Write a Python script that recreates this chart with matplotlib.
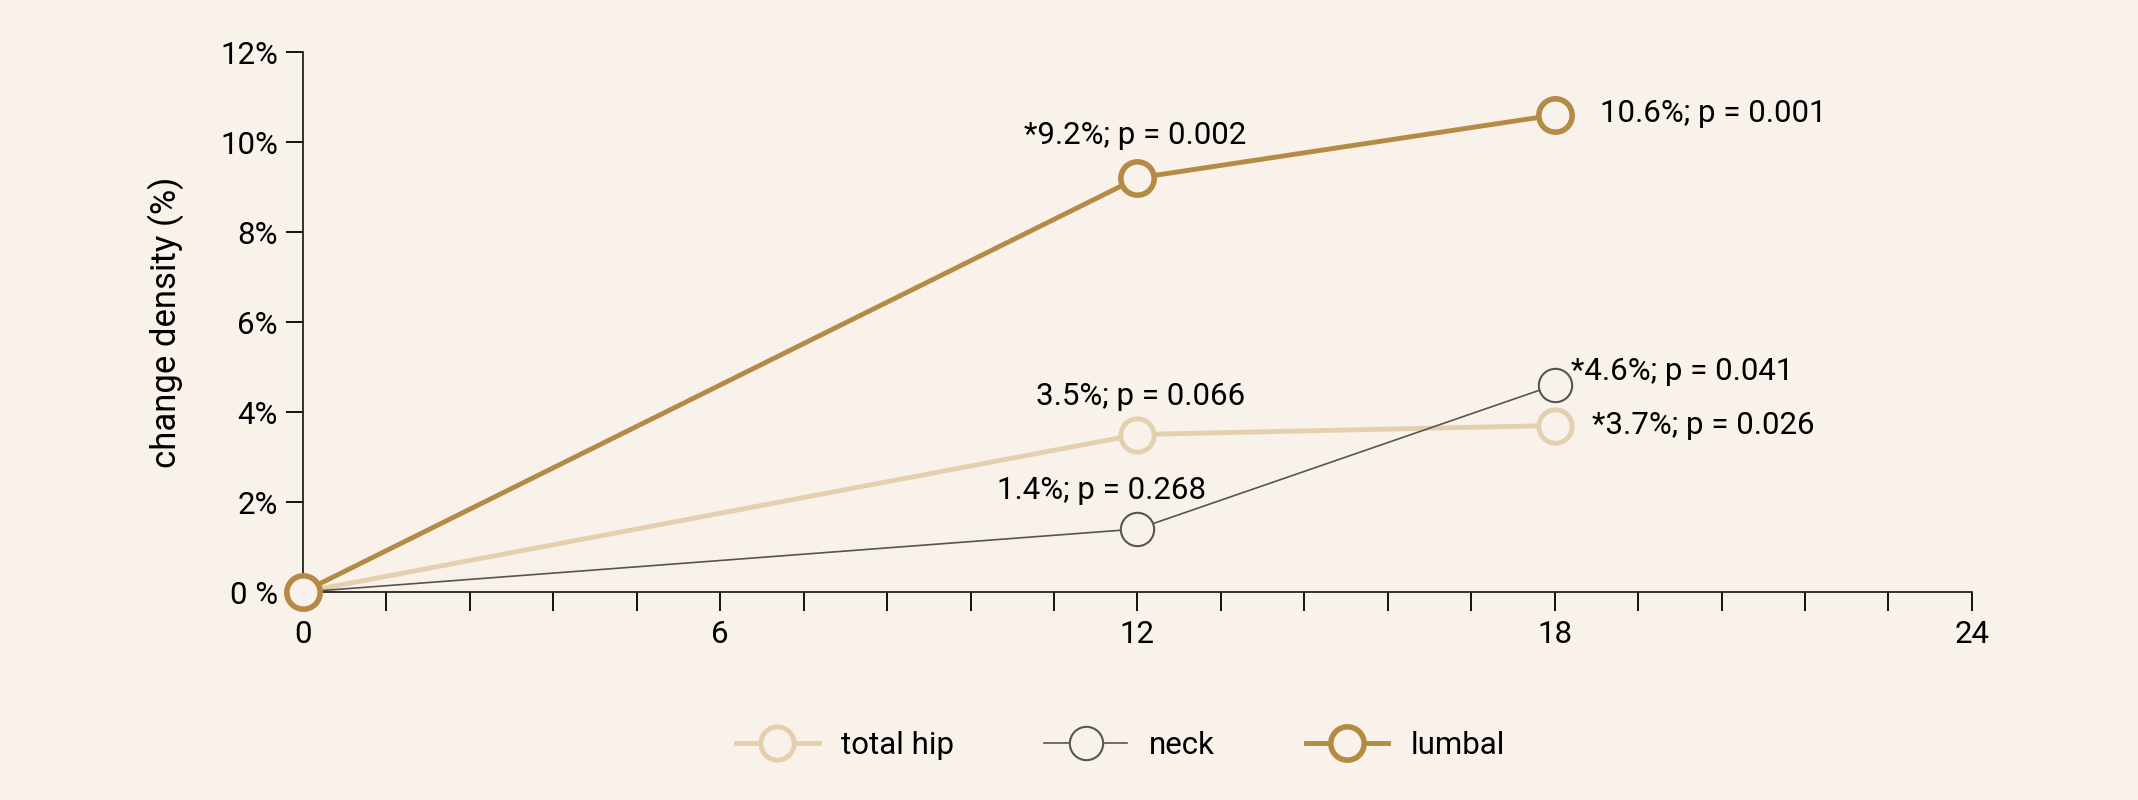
import matplotlib
matplotlib.use("Agg")
import matplotlib.pyplot as plt
import numpy as np

plt.rcParams['font.family'] = ['Roboto', 'DejaVu Sans']

bg = '#f8f2ea'

months = [0, 12, 18]
total_hip = [0, 3.5, 3.7]
neck = [0, 1.4, 4.6]
lumbal = [0, 9.2, 10.6]

hip_labels = ['', '3.5%; p = 0.066', '*3.7%; p = 0.026']
neck_labels = ['', '1.4%; p = 0.268', '*4.6%; p = 0.041']
lumbal_labels = ['', '*9.2%; p = 0.002', '10.6%; p = 0.001']

x_labels = [0, 6, 12, 18, 24]
y_ticks = [0, 2, 4, 6, 8, 10, 12]
y_labels = ['0 %', '2%', '4%', '6%', '8%', '10%', '12%']

c_hip = '#e4d0ae'
c_neck = '#555555'
c_lumbal = '#b58a45'

fig = plt.figure(figsize=(21.38, 8), dpi=100, facecolor=bg)
ax = fig.add_axes([0.1417, 0.26, 0.7806, 0.675])
ax.set_facecolor(bg)

ax.plot(months, total_hip, color=c_hip, lw=3.5, marker='o', ms=24,
        mfc=bg, mec=c_hip, mew=3.5, label='total hip', zorder=3)
ax.plot(months, neck, color=c_neck, lw=1.2, marker='o', ms=24,
        mfc=bg, mec=c_neck, mew=1.5, label='neck', zorder=3)
ax.plot(months, lumbal, color=c_lumbal, lw=3.5, marker='o', ms=24,
        mfc=bg, mec=c_lumbal, mew=4, label='lumbal', zorder=4)

fs = 22.5
# labels above the 12-month points
ax.annotate(lumbal_labels[1], (months[1], lumbal[1]), xytext=(-2, 20),
            textcoords='offset points', ha='center', va='bottom', fontsize=fs)
ax.annotate(hip_labels[1], (months[1], total_hip[1]), xytext=(2, 17),
            textcoords='offset points', ha='center', va='bottom', fontsize=fs)
ax.annotate(neck_labels[1], (months[1], neck[1]), xytext=(-26, 17),
            textcoords='offset points', ha='center', va='bottom', fontsize=fs)
# labels right of the 18-month points
ax.annotate(lumbal_labels[2], (months[2], lumbal[2]), xytext=(33, 1),
            textcoords='offset points', ha='left', va='center', fontsize=fs)
ax.annotate(hip_labels[2], (months[2], total_hip[2]), xytext=(27, 0),
            textcoords='offset points', ha='left', va='center', fontsize=fs)
ax.annotate(neck_labels[2], (months[2], neck[2]), xytext=(12, 10),
            textcoords='offset points', ha='left', va='center', fontsize=fs)

ax.set_xlim(0, 24)
ax.set_ylim(0, 12)
ax.xaxis.remove_overlapping_locs = False
minor_pos = np.arange(0, 24.01, 1.2)
ax.set_xticks(minor_pos)
ax.set_xticklabels(['' for _ in minor_pos])
ax.set_xticks(x_labels, minor=True)
ax.set_xticklabels([str(v) for v in x_labels], minor=True)
ax.tick_params(axis='x', which='major', length=14, width=1.3, direction='out')
ax.tick_params(axis='x', which='minor', length=0, pad=20, labelsize=fs)
ax.set_yticks(y_ticks)
ax.set_yticklabels(y_labels)
ax.tick_params(axis='y', length=12, width=1.3, labelsize=fs, pad=6)

for s in ['top', 'right']:
    ax.spines[s].set_visible(False)
for s in ['left', 'bottom']:
    ax.spines[s].set_linewidth(1.3)
    ax.spines[s].set_color('#222222')

ax.set_ylabel('change density (%)', fontsize=25, labelpad=26)
for ln in ax.lines:
    ln.set_clip_on(False)

fig.legend(loc='center', bbox_to_anchor=(0.524, 0.068), ncol=3, frameon=False,
           fontsize=fs, handlelength=2.65, columnspacing=2.9, handletextpad=0.7,
           markerscale=1.0)

fig.savefig('out.png', dpi=100, facecolor=bg)
